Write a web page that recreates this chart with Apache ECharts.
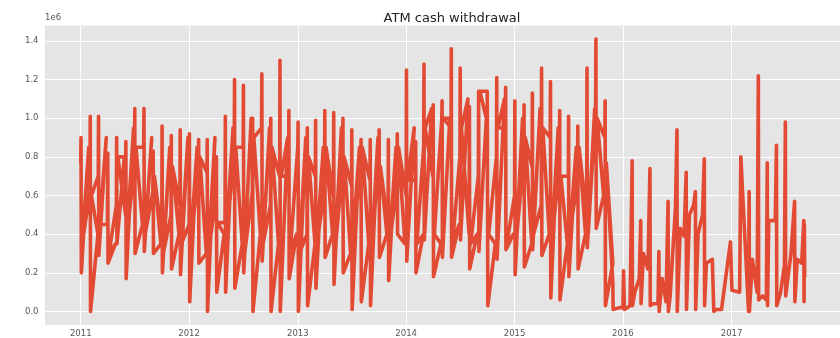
<!DOCTYPE html>
<html>
<head>
<meta charset="utf-8">
<script src="https://cdn.jsdelivr.net/npm/echarts@6/dist/echarts.min.js"></script>
<style>
html,body{margin:0;padding:0;background:#fff;}
#chart{width:840px;height:338px;}
</style>
</head>
<body>
<div id="chart"></div>
<script>
// Monthly spikes (values in units of 1e6)
const months = ['2011-01','2011-02','2011-03','2011-04','2011-05','2011-06','2011-07','2011-08','2011-09','2011-10','2011-11','2011-12',
'2012-01','2012-02','2012-03','2012-04','2012-05','2012-06','2012-07','2012-08','2012-09','2012-10','2012-11','2012-12',
'2013-01','2013-02','2013-03','2013-04','2013-05','2013-06','2013-07','2013-08','2013-09','2013-10','2013-11','2013-12',
'2014-01','2014-02','2014-03','2014-04','2014-05','2014-06','2014-07','2014-08','2014-09','2014-10','2014-11','2014-12',
'2015-01','2015-02','2015-03','2015-04','2015-05','2015-06','2015-07','2015-08','2015-09','2015-10','2015-11'];
const before = [0.77,0.62,0.70,0.45,0.55,0.50,0.75,0.85,0.62,0.40,0.50,0.55,
0.45,0.70,0.72,0.60,0.46,0.80,0.85,0.62,0.95,0.55,0.70,0.70,
0.85,0.40,0.70,0.62,0.60,0.75,0.65,0.72,0.68,0.80,0.45,0.65,
0.60,0.68,0.85,0.70,1.00,0.95,0.80,0.40,0.70,1.14,0.80,0.95,
0.60,0.80,0.75,0.55,0.90,0.75,0.70,0.68,0.50,1.05,0.90];
const peaks = [0.90,1.01,1.01,0.82,0.90,0.88,1.05,1.05,0.83,0.96,0.91,0.94,
0.92,0.89,0.89,0.80,1.01,1.20,1.17,1.00,1.23,1.00,1.30,1.04,
0.98,0.95,0.99,1.04,1.03,1.00,0.94,0.89,0.89,0.94,0.89,0.92,
1.25,0.88,1.28,1.07,1.09,1.36,1.26,1.06,1.14,1.14,1.21,1.16,
1.09,1.07,1.13,1.26,1.19,1.04,1.01,0.96,1.26,1.41,1.09];
const troughs = [0.20,0.00,0.29,0.25,0.35,0.17,0.30,0.31,0.30,0.20,0.22,0.19,
0.05,0.25,0.00,0.10,0.10,0.12,0.20,0.00,0.26,0.00,0.00,0.17,
0.00,0.03,0.12,0.28,0.14,0.20,0.01,0.05,0.03,0.28,0.16,0.40,
0.26,0.20,0.37,0.18,0.28,0.28,0.37,0.22,0.31,0.03,0.27,0.32,
0.19,0.23,0.32,0.29,0.07,0.06,0.18,0.22,0.33,0.43,0.03];
// value late in the month (day 28), then value early in the month (day 6)
const lateMonth = [0.85,0.40,0.90,0.35,0.80,0.95,0.45,0.90,0.35,0.85,0.40,0.90,
0.85,0.30,0.90,0.40,0.95,0.35,1.00,0.40,0.95,0.35,0.90,0.40,
0.90,0.35,0.85,0.40,0.95,0.30,0.85,0.35,0.90,0.40,0.85,0.35,
0.95,0.40,1.05,0.35,1.00,0.45,1.10,0.40,1.00,0.35,1.10,0.40,
1.00,0.35,1.05,0.40,0.95,0.35,0.85,0.40,1.05,0.60,0.25];
const earlyMonth = [0.35,0.60,0.45,0.30,0.80,0.40,0.85,0.40,0.70,0.30,0.75,0.35,
0.35,0.80,0.30,0.46,0.40,0.85,0.30,0.90,0.35,0.85,0.70,0.30,
0.30,0.80,0.35,0.85,0.30,0.80,0.40,0.85,0.30,0.75,0.35,0.85,
0.68,0.35,0.95,0.40,1.00,0.35,0.95,0.35,1.14,0.40,0.95,0.35,
0.35,0.90,0.40,0.95,0.35,0.70,0.40,0.85,0.40,1.00,0.77];
// Irregular tail, late 2015 to 2017
const tailDates = ['2015-11-28','2015-11-29','2015-12-20','2016-01-01','2016-01-03','2016-01-06','2016-01-25',
'2016-02-01','2016-02-02','2016-02-10','2016-02-25',
'2016-03-01','2016-03-02','2016-03-10','2016-03-25',
'2016-04-01','2016-04-02','2016-04-10','2016-04-28',
'2016-05-01','2016-05-02','2016-05-12','2016-05-25',
'2016-06-01','2016-06-02','2016-06-08','2016-06-26',
'2016-07-01','2016-07-02','2016-07-12','2016-07-25',
'2016-08-01','2016-08-02','2016-08-12','2016-08-26',
'2016-09-01','2016-09-02','2016-09-10','2016-09-25',
'2016-10-01','2016-10-02','2016-10-08','2016-10-28',
'2016-11-01','2016-11-02','2016-11-10','2016-11-28','2016-12-28',
'2017-01-02','2017-01-28','2017-02-01','2017-02-27',
'2017-03-01','2017-03-02','2017-03-12','2017-03-28',
'2017-04-01','2017-04-02','2017-04-15','2017-04-28',
'2017-05-01','2017-05-02','2017-05-06','2017-05-28',
'2017-06-01','2017-06-02','2017-06-15','2017-06-28',
'2017-07-01','2017-07-02','2017-07-20',
'2017-08-01','2017-08-02','2017-08-10','2017-08-25',
'2017-09-01','2017-09-02','2017-09-03','2017-09-04'];
const tailValues = [0.15,0.01,0.02,0.02,0.21,0.01,0.03,
0.78,0.03,0.10,0.17,
0.47,0.04,0.30,0.22,
0.74,0.03,0.04,0.04,
0.31,0.00,0.17,0.05,
0.57,0.00,0.08,0.54,
0.94,0.00,0.43,0.39,
0.72,0.01,0.50,0.55,
0.62,0.01,0.40,0.50,
0.79,0.03,0.25,0.27,
0.27,0.00,0.01,0.01,0.36,
0.11,0.10,0.80,0.00,
0.62,0.00,0.27,0.10,
1.22,0.06,0.08,0.06,
0.77,0.03,0.47,0.47,
0.86,0.03,0.10,0.24,
0.98,0.08,0.30,
0.57,0.05,0.27,0.25,
0.47,0.05,0.45,0.18];
const yTicks = [0, 0.2, 0.4, 0.6, 0.8, 1.0, 1.2, 1.4];

const seriesData = [];
months.forEach((m, i) => {
  seriesData.push([m + '-01', before[i]]);
  seriesData.push([m + '-02', peaks[i]]);
  seriesData.push([m + '-03', troughs[i]]);
  seriesData.push([m + '-28', lateMonth[i]]);
  seriesData.push([m + '-06', earlyMonth[i]]);
});
tailDates.forEach((d, i) => seriesData.push([d, tailValues[i]]));

const chart = echarts.init(document.getElementById('chart'), null, {renderer: 'canvas'});
const font = 'DejaVu Sans';
chart.setOption({
  animation: false,
  backgroundColor: '#ffffff',
  title: {
    text: 'ATM cash withdrawal',
    left: 447, top: 7, textAlign: 'center',
    textStyle: {fontFamily: font, fontSize: 13, fontWeight: 'normal', color: '#222222'}
  },
  graphic: [{
    type: 'text', left: 45, top: 13,
    style: {text: '1e6', fontFamily: font, fontSize: 8.5, fill: '#555555'}
  }],
  grid: {left: 44.5, right: -9.6, top: 25.5, bottom: 13, show: true, backgroundColor: '#E5E5E5', borderWidth: 0},
  xAxis: {
    type: 'time',
    min: '2010-09-01', max: '2018-01-01',
    minInterval: 365 * 24 * 3600 * 1000,
    axisLine: {show: false}, axisTick: {show: false},
    splitLine: {show: true, lineStyle: {color: '#ffffff', width: 1}},
    axisLabel: {
      fontFamily: font, fontSize: 8.5, color: '#555555', margin: 4,
      formatter: (v) => String(new Date(v).getFullYear())
    }
  },
  yAxis: {
    type: 'value', min: -0.07, max: 1.48,
    axisLine: {show: false},
    axisTick: {show: false, customValues: yTicks},
    splitLine: {show: true, lineStyle: {color: '#ffffff', width: 1}},
    axisLabel: {fontFamily: font, fontSize: 8.5, color: '#555555', margin: 6,
      customValues: yTicks, formatter: (v) => v.toFixed(1)}
  },
  series: [{
    type: 'line', data: seriesData, showSymbol: false, symbol: 'none',
    sampling: null,
    lineStyle: {color: '#E24A33', width: 3.6, cap: 'round', join: 'round'}
  }]
});
</script>
</body>
</html>
